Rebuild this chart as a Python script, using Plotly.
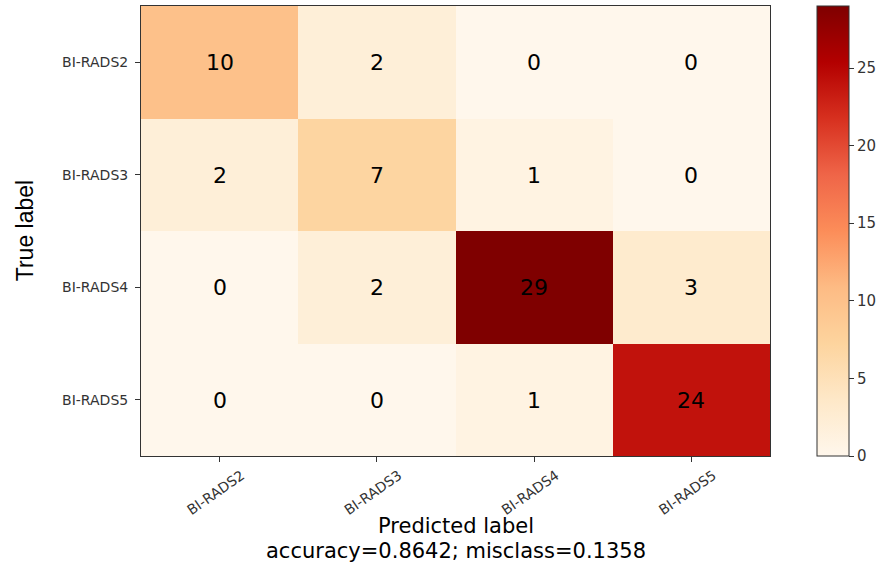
import plotly.graph_objects as go

labels = ["BI-RADS2", "BI-RADS3", "BI-RADS4", "BI-RADS5"]
cm = [
    [10, 2, 0, 0],
    [2, 7, 1, 0],
    [0, 2, 29, 3],
    [0, 0, 1, 24],
]
cbar_ticks = [0, 5, 10, 15, 20, 25]
accuracy = 0.8642
misclass = 0.1358

fig = go.Figure(go.Heatmap(
    z=cm, x=labels, y=labels,
    colorscale="OrRd", zmin=0, zmax=29,
    text=[[str(v) for v in row] for row in cm],
    texttemplate="%{text}",
    textfont=dict(family="DejaVu Sans", size=22, color="black"),
    showscale=True,
    colorbar=dict(
        x=1.075, xanchor="left", y=0.5, yanchor="middle", len=1, lenmode="fraction",
        thickness=32, thicknessmode="pixels",
        outlinewidth=1, outlinecolor="#333",
        tickvals=cbar_ticks, ticks="outside", ticklen=5, tickcolor="#333",
        tickfont=dict(family="DejaVu Sans", size=15, color="#333"),
        xpad=0, ypad=0,
    ),
    hoverinfo="skip",
))

fig.update_layout(
    width=885, height=568,
    margin=dict(l=141, r=115, t=6, b=112),
    paper_bgcolor="white", plot_bgcolor="white",
    xaxis=dict(
        tickangle=-35, ticks="outside", ticklen=5, tickcolor="#333",
        tickfont=dict(family="DejaVu Sans", size=14, color="#333"),
        ticklabelshift=22,
        showline=True, linecolor="#333", linewidth=1, mirror=True,
        showgrid=False, zeroline=False,
    ),
    yaxis=dict(
        autorange="reversed", ticks="outside", ticklen=5, tickcolor="#333",
        tickfont=dict(family="DejaVu Sans", size=14, color="#333"),
        ticklabelstandoff=4,
        showline=True, linecolor="#333", linewidth=1, mirror=True,
        showgrid=False, zeroline=False,
    ),
    annotations=[
        dict(text="True label", xref="paper", yref="paper", x=-0.184, y=0.5,
             xanchor="center", yanchor="middle", textangle=-90, showarrow=False,
             font=dict(family="Liberation Sans Narrow, Liberation Sans", size=23, color="black")),
        dict(text="Predicted label", xref="paper", yref="paper", x=0.5, y=-0.1556,
             xanchor="center", yanchor="middle", showarrow=False,
             font=dict(family="DejaVu Sans", size=21, color="black")),
        dict(text=f"accuracy={accuracy:.4f}; misclass={misclass:.4f}", xref="paper", yref="paper",
             x=0.5, y=-0.211, xanchor="center", yanchor="middle", showarrow=False,
             font=dict(family="DejaVu Sans", size=21, color="black")),
    ],
)

fig.write_html("out.html", config={"displayModeBar": False},
               post_script="document.body.style.margin='0';")
